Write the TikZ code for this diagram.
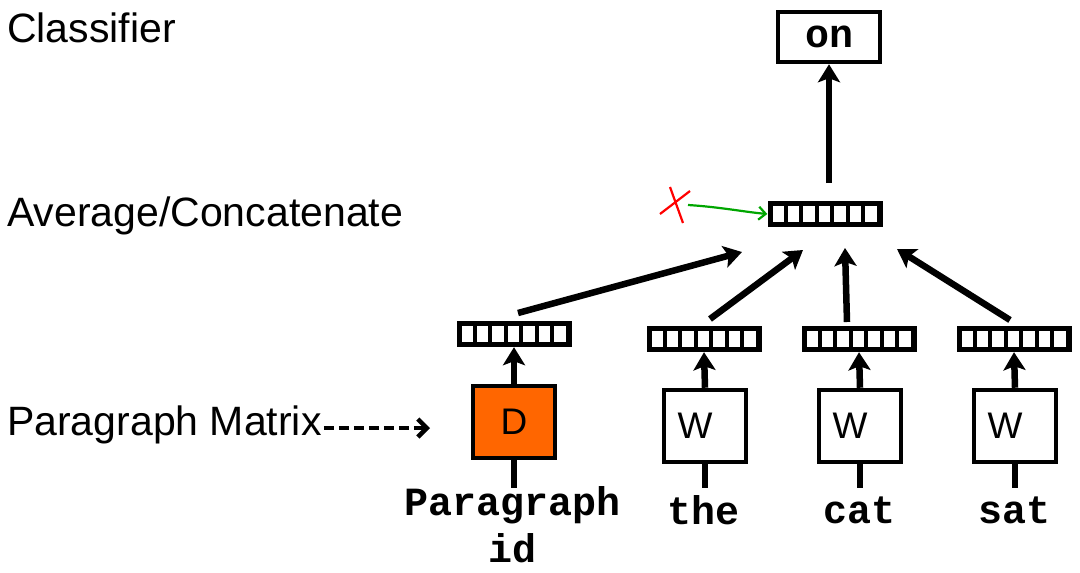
\documentclass[tikz,border=0pt]{standalone}
\usepackage{fontspec}
\setmainfont{Liberation Sans}
\setmonofont{Liberation Mono}
\usetikzlibrary{arrows.meta}
\newcommand\vecnode[3]{%
  \node[fill=black, minimum width=115, minimum height=26, inner sep=0] (#1) at (#2,#3) {};
  \foreach \i in {0,...,6} \fill[white] (#2-57.5+5+\i*15.43, #3-13+5) rectangle ++(11.43,16);
}
\begin{document}
\begin{tikzpicture}[x=1pt,y=-1pt,
  lbl/.style={anchor=west, font=\fontsize{41}{44}\selectfont, inner sep=0},
  word/.style={font=\fontsize{40}{44}\selectfont\ttfamily\bfseries, inner sep=0},
  wbox/.style={draw, line width=4.5, minimum width=82, minimum height=72, inner sep=0, font=\fontsize{37}{40}\selectfont},
  bigarrow/.style={line width=6.5, -{Stealth[length=18,width=22,inset=4]}},
  stem/.style={line width=6},
]
\useasboundingbox (0,0) rectangle (1080,573);

% left labels
\node[lbl] (lc) at (7,28) {Classifier};
\node[lbl] (la) at (7,216) {Average/Concatenate};
\node[lbl] (lp) at (7,425) {Paragraph Matrix};
\coordinate (pmend) at (430,428);
\draw[line width=4.5, dash pattern=on 10 off 5, -{Straight Barb[length=9,width=18,line width=4.5]}] (lp.east |- pmend) ++(2,0) -- (pmend);

% classifier output
\node[draw, line width=4.5, minimum width=102, minimum height=50, inner sep=0, font=\fontsize{40}{44}\selectfont\ttfamily\bfseries] (on) at (829,37) {on};

% middle vector
\vecnode{vm}{825}{214}
\coordinate (vmtop) at (829,183);
\draw[bigarrow] (vmtop) -- (on.south);

% removed input
\node[inner sep=0, minimum size=34] (x) at (675,205) {};
\draw[red, line width=2.2] (660,214) -- (690,191);
\draw[red, line width=2.2] (670,187) -- (683,223);
\coordinate (gstart) at (688,205);
\draw[green!65!black, line width=2.2, -{Straight Barb[length=7,width=13]}] (gstart) .. controls (720,207) and (745,212) .. (vm.west);

% lower vectors
\vecnode{vd}{514}{334}
\vecnode{v1}{704}{339}
\vecnode{v2}{859}{339}
\vecnode{v3}{1014}{339}

% boxes
\node[wbox, fill={rgb,255:red,255;green,102;blue,0}] (bd) at (514,422) {D};
\node[wbox] (b1) at (705,426) {\raisebox{-5pt}{\hspace*{-20pt}W}};
\node[wbox] (b2) at (860,426) {\raisebox{-5pt}{\hspace*{-20pt}W}};
\node[wbox] (b3) at (1015,426) {\raisebox{-5pt}{\hspace*{-20pt}W}};

% box to vector arrows
\draw[bigarrow] (bd.north) -- (vd.south);
\draw[bigarrow] (b1.north) -- (v1.south);
\draw[bigarrow] (b2.north) -- (v2.south);
\draw[bigarrow] (b3.north) -- (v3.south);

% stems below boxes
\coordinate (sd) at (514,488);
\coordinate (s1) at (705,488);
\coordinate (s2) at (860,488);
\coordinate (s3) at (1015,488);
\draw[stem] (bd.south) -- (sd);
\draw[stem] (b1.south) -- (s1);
\draw[stem] (b2.south) -- (s2);
\draw[stem] (b3.south) -- (s3);

% words
\node[word] (wp) at (513,505) {Paragraph};
\node[word] (wid) at (513,548) {id};
\node[word] (w1) at (704,510) {the};
\node[word] (w2) at (859,510) {cat};
\node[word] (w3) at (1014,510) {sat};

% vectors to average
\coordinate (t0) at (742,252);
\coordinate (t1) at (803,250);
\coordinate (t2) at (845,248);
\coordinate (t3) at (897,249);
\coordinate (f0) at (518,313);
\coordinate (f1) at (710,319);
\coordinate (f2) at (847,322);
\coordinate (f3) at (1010,320);
\draw[bigarrow] (f0) -- (t0);
\draw[bigarrow] (f1) -- (t1);
\draw[bigarrow] (f2) -- (t2);
\draw[bigarrow] (f3) -- (t3);
\end{tikzpicture}
\end{document}
